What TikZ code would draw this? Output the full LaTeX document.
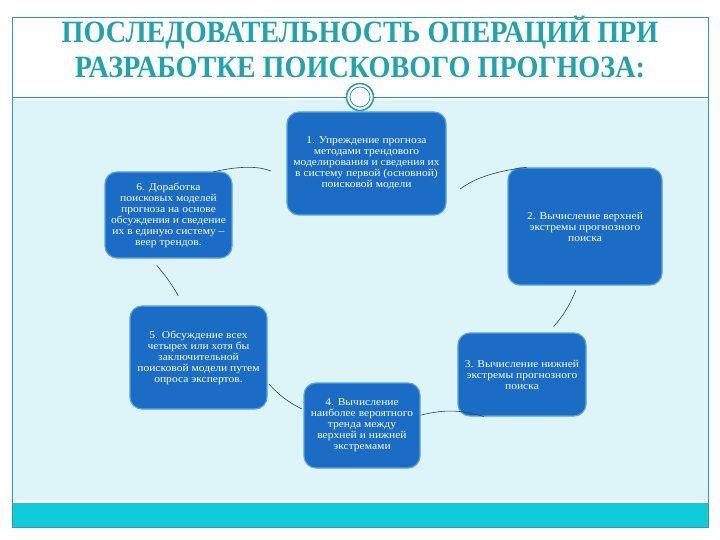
\documentclass[tikz,border=0pt]{standalone}
\usepackage{fontspec}
\setmainfont{Liberation Serif}
\newfontfamily\titlefont[FakeStretch=0.91]{Liberation Serif}
\newfontfamily\boxfont[FakeStretch=1.1]{Liberation Serif}
\usetikzlibrary{positioning}

\definecolor{titleteal}{HTML}{1FA3AE}
\definecolor{frameteal}{HTML}{2E9CA6}
\definecolor{panelblue}{HTML}{DDF4F8}
\definecolor{bandcyan}{HTML}{10CCD9}
\definecolor{boxblue}{HTML}{1A6CC5}
\definecolor{boxline}{HTML}{5AA2E6}
\definecolor{linkcol}{HTML}{2B3F66}

\tikzset{
  opbox/.style={draw=boxline, line width=1.2pt, fill=boxblue,
    rounded corners=12pt, text=white, align=center, inner sep=0pt,
    font=\boxfont\fontsize{10.5}{11}\selectfont},
  link/.style={draw=linkcol, line width=0.6pt},
}

\begin{document}
\begin{tikzpicture}[x=1pt, y=-1pt]

\useasboundingbox (0,0) rectangle (720,540);
\fill[white] (0,0) rectangle (720,540);

%% background panels
\fill[panelblue] (12,100) rectangle (708,500);
\fill[bandcyan] (12,503) rectangle (708,527);
\draw[frameteal, line width=0.6pt] (12,17) rectangle (708,527);
\draw[frameteal, line width=0.8pt] (12,97) -- (708,97);

%% title
\node[text=titleteal, align=center,
  font=\titlefont\bfseries\fontsize{31}{35}\selectfont] (title) at (360,47)
  {ПОСЛЕДОВАТЕЛЬНОСТЬ ОПЕРАЦИЙ ПРИ\\РАЗРАБОТКЕ ПОИСКОВОГО ПРОГНОЗА:};

%% steps
\node[opbox, minimum width=159pt, minimum height=103pt] (op1) at (366.5,163.5)
  {1. Упреждение прогноза\\методами трендового\\моделирования и сведения их\\в систему первой (основной)\\поисковой модели};
\node[opbox, minimum width=154pt, minimum height=117pt] (op2) at (585,226.5)
  {2. Вычисление верхней\\экстремы прогнозного\\поиска};
\node[opbox, minimum width=128pt, minimum height=83pt] (op3) at (522,374.5)
  {3. Вычисление нижней\\экстремы прогнозного\\поиска};
\node[opbox, minimum width=116pt, minimum height=85pt] (op4) at (362,425.5)
  {4. Вычисление\\наиболее вероятного\\тренда между\\верхней и нижней\\экстремами};
\node[opbox, minimum width=137pt, minimum height=103pt] (op5) at (198.5,357.5)
  {5. Обсуждение всех\\четырех или хотя бы\\заключительной\\поисковой модели путем\\опроса экспертов.};
\node[opbox, minimum width=127pt, minimum height=86pt] (op6) at (168.5,215)
  {6. Доработка\\поисковых моделей\\прогноза на основе\\обсуждения и сведение\\их в единую систему –\\веер трендов.};

%% ornament
\draw[frameteal, line width=1.6pt, fill=white] (360,97) circle (13.5pt);
\draw[frameteal, line width=0.8pt] (360,97) circle (10pt);

%% connectors
\draw[link, shorten <=-2pt, shorten >=17pt] (op6.43) to[bend left=18] (op1.190);
\draw[link, shorten <=17pt, shorten >=-1pt] (op1.-24) to[bend left=15] (op2.135);
\draw[link, shorten <=5pt, shorten >=8pt] (op2.-97) to[bend left=10] (op3.58);
\draw[link, shorten <=0pt, shorten >=0pt] (op4.10) to[bend left=15] (op3.-132);
\draw[link, shorten <=2pt, shorten >=2pt] (op5.-20) to[bend right=10] (op4.165);
\draw[link, shorten <=9pt, shorten >=11pt] (op6.-112) to[bend left=6] (op5.106);

\end{tikzpicture}
\end{document}
